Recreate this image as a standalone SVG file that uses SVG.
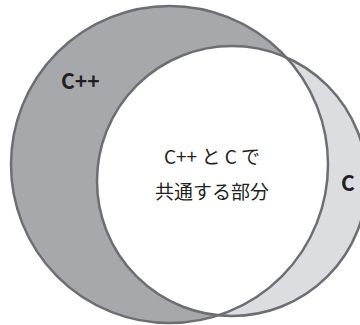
<svg xmlns="http://www.w3.org/2000/svg" width="360" height="325" viewBox="0 0 360 325">
  <defs>
    <style>
      .ring { fill: none; stroke: #6d6e71; stroke-width: 2.5; }
      .lbl { font-family: "Noto Sans CJK JP", "Noto Sans", sans-serif; fill: #231f20; }
      .b { font-weight: bold; font-size: 21px; }
      .m { font-size: 19px; text-anchor: middle; }
    </style>
    <clipPath id="clipBig">
      <circle cx="169.5" cy="164.5" r="158.5"/>
    </clipPath>
  </defs>
  <rect width="360" height="325" fill="#ffffff"/>
  <g id="cpp">
    <circle cx="169.5" cy="164.5" r="158.5" fill="#a7a8ab"/>
  </g>
  <g id="c">
    <circle cx="232" cy="181" r="135" fill="#dcdde0"/>
  </g>
  <g id="common">
    <circle cx="232" cy="181" r="135" fill="#ffffff" clip-path="url(#clipBig)"/>
  </g>
  <g id="outlines">
    <circle class="ring" cx="169.5" cy="164.5" r="158.5"/>
    <circle class="ring" cx="232" cy="181" r="135"/>
  </g>
  <text class="lbl b" x="61" y="88.5">C++</text>
  <text class="lbl b" x="341" y="190.5">C</text>
  <text class="lbl m" x="212" y="163.5">C++ と C で</text>
  <text class="lbl m" x="212" y="199">共通する部分</text>
</svg>
